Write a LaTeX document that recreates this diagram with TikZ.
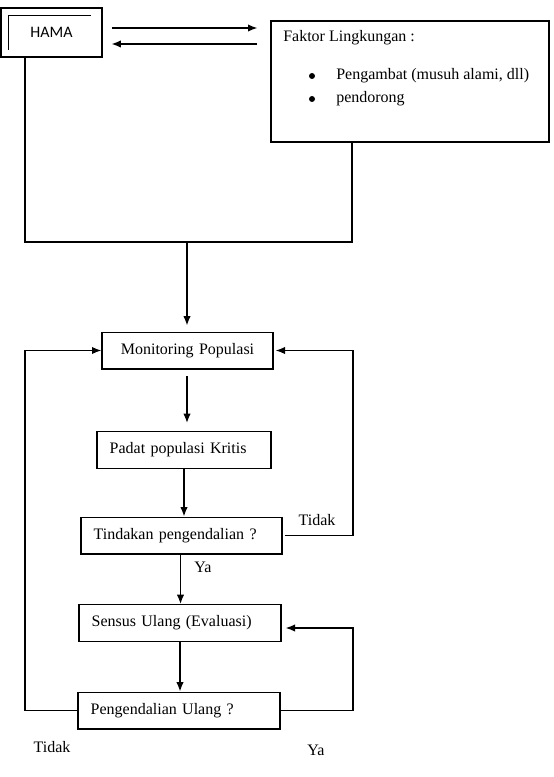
\documentclass[tikz,border=0pt]{standalone}
\usepackage{fontspec}
\setmainfont{Liberation Serif}
\newfontfamily\hamafont{Carlito}
\usepackage{tikz}
\usetikzlibrary{arrows.meta}

\begin{document}
\begin{tikzpicture}[x=0.75pt,y=-0.75pt,font=\fontsize{12pt}{14pt}\selectfont,
  kotak/.style={draw,line width=1pt,inner xsep=9.5pt,inner ysep=0pt,align=left,minimum height=27.5pt},
  panah/.style={line width=1pt,-{Latex[length=7pt,width=5.5pt]}},
  garis/.style={line width=0.9pt},
  titik/.style={circle,fill,inner sep=0pt,minimum size=4.5pt}]
            \useasboundingbox (0,0) rectangle (553,777);
            \node[draw,line width=1pt,minimum width=75.5pt,minimum height=36.75pt,font=\hamafont\fontsize{12pt}{14pt}\selectfont] (hama) at (51.5,32.5) {HAMA};
            \draw[line width=0.7pt] (8,50) -- (8,15) -- (91,15);
            \node[draw,line width=1pt,minimum width=208.5pt,minimum height=90.75pt] (faktor) at (410,81.5) {};
            \node[anchor=west,inner sep=0pt] (judul) at (283,38) {Faktor Lingkungan :};
            \node[titik] (b1) at (312,76) {};
            \node[titik] (b2) at (312,99) {};
            \node[anchor=west,inner sep=0pt] (i1) at (336,76) {Pengambat (musuh alami, dll)};
            \node[anchor=west,inner sep=0pt] (i2) at (336,99) {pendorong};
            \node[kotak,align=center,text width=109.25pt] (monitor) at (187.5,350.5) {Monitoring Populasi};
            \node[kotak,text width=111.5pt] (padat) at (184,450) {Padat populasi Kritis};
            \node[kotak,text width=131.75pt] (tindakan) at (181.5,535.5) {Tindakan pengendalian ?};
            \node[kotak,text width=132.5pt] (sensus) at (180,623) {Sensus Ulang (Evaluasi)};
            \node[kotak,text width=132.5pt] (pengulang) at (179,710.5) {Pengendalian Ulang ?};
            \node (tidak1) at (317,520) {Tidak};
            \node (ya1) at (203,567) {Ya};
            \node (tidak2) at (52,747) {Tidak};
            \node (ya2) at (316,750) {Ya};
            \coordinate (gabung) at (187,242);
              \draw[panah,shorten <=6.75pt,shorten >=9.75pt] (hama.east |- 0,28) -- (faktor.west |- 0,28);
              \draw[panah,shorten <=9.75pt,shorten >=6.75pt] (faktor.west |- 0,44) -- (hama.east |- 0,44);
              \draw[garis] (hama.south -| 25,0) -- (25,242) -- (352,242) -- (faktor.south -| 352,0);
              \draw[panah,shorten >=4.5pt] (gabung) -- (monitor.north -| gabung);
              \draw[panah,shorten <=5pt,shorten >=6pt] (monitor.south -| gabung) -- (padat.north -| gabung);
              \draw[panah] (padat.south -| 184,0) -- (tindakan.north -| 184,0);
              \draw[panah] (tindakan.south -| 180.5,0) -- (sensus.north -| 180.5,0);
              \draw[panah] (sensus.south -| 180,0) -- (pengulang.north -| 180,0);
              \draw[panah,shorten <=1.5pt,shorten >=1.5pt] (tindakan.east) -- (tindakan.east -| 353,0) |- (monitor.east);
              \draw[panah,shorten >=3pt] (pengulang.east) -- (pengulang.east -| 353,0) |- ([yshift=-3.75pt]sensus.east);
              \draw[panah] (pengulang.west) -- (pengulang.west -| 25,0) |- (monitor.west);
            \end{tikzpicture}
\end{document}
